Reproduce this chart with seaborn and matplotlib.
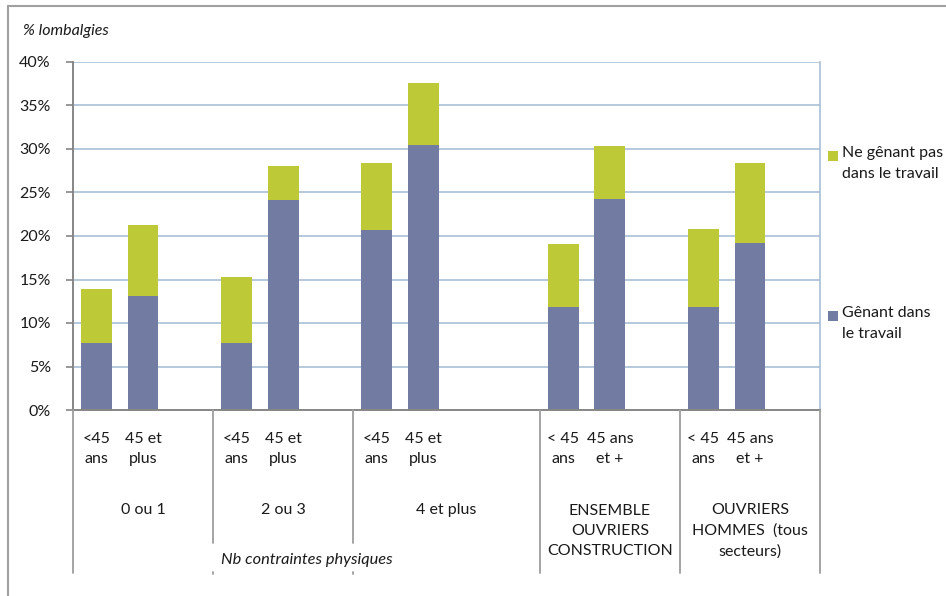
import numpy as np
import pandas as pd
import matplotlib
matplotlib.use("Agg")
import matplotlib.pyplot as plt
from matplotlib.lines import Line2D
from matplotlib.patches import Rectangle
import matplotlib.transforms as mtransforms
import seaborn as sns

# Rows of the source table (blank rows leave gaps between groups)
age_labels = ["<45\nans", "45 et\nplus", "",
              "<45\nans", "45 et\nplus", "",
              "<45\nans", "45 et\nplus", "", "",
              "< 45\nans", "45 ans\net +", "",
              "< 45\nans", "45 ans\net +", ""]
row_group = [0, 0, 0, 1, 1, 1, 2, 2, 2, 2, 3, 3, 3, 4, 4, 4]
group_labels = ["0 ou 1", "2 ou 3", "4 et plus",
                "ENSEMBLE\nOUVRIERS\nCONSTRUCTION",
                "OUVRIERS\nHOMMES  (tous\nsecteurs)"]
super_label = "Nb contraintes physiques"
super_groups = [0, 1, 2]

# % lombalgies
genant = [7.7, 13.1, None, 7.7, 24.1, None, 20.7, 30.5, None, None,
          11.8, 24.2, None, 11.8, 19.2, None]
non_genant = [6.2, 8.2, None, 7.6, 3.9, None, 7.7, 7.1, None, None,
              7.3, 6.1, None, 9.0, 9.2, None]

series_names = ["Ne gênant pas\ndans le travail", "Gênant dans\nle travail"]
y_ticks = [0, 5, 10, 15, 20, 25, 30, 35, 40]
y_tick_labels = ["0%", "5%", "10%", "15%", "20%", "25%", "30%", "35%", "40%"]
y_title = "% lombalgies"

C_BLUE = "#727ca3"
C_GREEN = "#bdc936"
C_GRID = "#a9bfd5"
C_AXIS = "#868686"
C_DIV = "#9d9d9d"
C_TEXT = "#1a1a1a"

sns.set_theme(style="white")
plt.rcParams["font.family"] = ["Lato", "DejaVu Sans"]
FS = 11.5
LS = 1.6

W, H = 946, 596
fig = plt.figure(figsize=(W / 100, H / 100), dpi=100)


def fx(x):
    return x / W


def fy(y):
    return 1 - y / H


ax = fig.add_axes([fx(73), fy(410), fx(820) - fx(73), fy(62) - fy(410)])

n = len(age_labels)
df = pd.DataFrame({
    "row": np.arange(n),
    "genant": pd.to_numeric(pd.Series(genant), errors="coerce"),
    "non_genant": pd.to_numeric(pd.Series(non_genant), errors="coerce"),
})
df["total"] = df["genant"] + df["non_genant"]
bars = df.dropna()
order = list(range(n))

# Stacked columns: full height in green, lower segment in blue on top of it
sns.barplot(data=bars, x="row", y="total", order=order, color=C_GREEN,
            saturation=1, width=0.66, ax=ax, zorder=3, linewidth=0)
sns.barplot(data=bars, x="row", y="genant", order=order, color=C_BLUE,
            saturation=1, width=0.66, ax=ax, zorder=4, linewidth=0)

ax.set_xlim(-0.5, n - 0.5)
ax.set_ylim(0, 40)
ax.set_yticks(y_ticks)
ax.set_yticklabels(y_tick_labels, fontsize=FS, color=C_TEXT)
ax.set_xticks([])
ax.set_xlabel("")
ax.set_ylabel("")
ax.tick_params(axis="y", length=5, width=1.2, color=C_AXIS, direction="out",
               pad=11, left=True)

ax.grid(False)
for yv in y_ticks[1:]:
    ax.axhline(yv, color=C_GRID, lw=1.2, zorder=1)

ax.spines["top"].set_visible(False)
ax.spines["right"].set_color(C_GRID)
ax.spines["right"].set_linewidth(1.2)
ax.spines["left"].set_color(C_AXIS)
ax.spines["left"].set_linewidth(1.4)
ax.spines["bottom"].set_color(C_AXIS)
ax.spines["bottom"].set_linewidth(1.4)
ax.spines["bottom"].set_zorder(5)

trans = mtransforms.blended_transform_factory(ax.transData, fig.transFigure)

# Age labels under each column
for i, lab in enumerate(age_labels):
    if lab:
        ax.text(i, fy(449), lab, transform=trans, ha="center", va="center",
                fontsize=FS, color=C_TEXT, linespacing=LS)

# Group labels
for g in range(len(group_labels)):
    rows = [i for i, rg in enumerate(row_group) if rg == g]
    lo, hi = rows[0] - 0.5, rows[-1] + 0.5
    nl = group_labels[g].count("\n") + 1
    yc = 510 if nl == 1 else 531
    ax.text((lo + hi) / 2, fy(yc), group_labels[g], transform=trans,
            ha="center", va="center", fontsize=FS, color=C_TEXT,
            linespacing=LS - 0.05)

# Category dividers below the axis
boundaries = sorted({i - 0.5 for i in range(1, n) if row_group[i] != row_group[i - 1]}
                    | {-0.5, n - 0.5})
super_rows = [i for i, rg in enumerate(row_group) if rg in super_groups]
s_lo, s_hi = super_rows[0] - 0.5, super_rows[-1] + 0.5
for b in boundaries:
    inside = s_lo < b < s_hi
    y_end = 543 if inside else 573
    fig.add_artist(Line2D([b, b], [fy(410), fy(y_end)], transform=trans,
                          color=C_DIV, lw=1.3))
    if inside:
        fig.add_artist(Line2D([b, b], [fy(572), fy(574)], transform=trans,
                              color=C_DIV, lw=1.3))

ax.text((s_lo + s_hi) / 2, fy(560), super_label, transform=trans,
        ha="center", va="center", fontsize=FS + 0.3, color=C_TEXT,
        style="italic")

# Axis title
fig.text(fx(23), fy(31), y_title, ha="left", va="center", fontsize=FS,
         color=C_TEXT, style="italic")

# Legend
legend_items = [(series_names[0], C_GREEN, 156), (series_names[1], C_BLUE, 316)]
for label, col, yc in legend_items:
    fig.add_artist(Rectangle((fx(828), fy(yc + 5)), fx(10), 10 / H,
                             transform=fig.transFigure, color=col, lw=0))
    fig.text(fx(842), fy(yc - 10), label, ha="left", va="top", fontsize=FS,
             color=C_TEXT, linespacing=LS)

# Outer frame (top and left edges)
fig.add_artist(Line2D([fx(8), 1], [fy(6), fy(6)], transform=fig.transFigure,
                      color="#a0a0a0", lw=1.5))
fig.add_artist(Line2D([fx(8), fx(8)], [fy(6), 0], transform=fig.transFigure,
                      color="#a0a0a0", lw=1.5))

fig.savefig("out.png", dpi=100, facecolor="white")
